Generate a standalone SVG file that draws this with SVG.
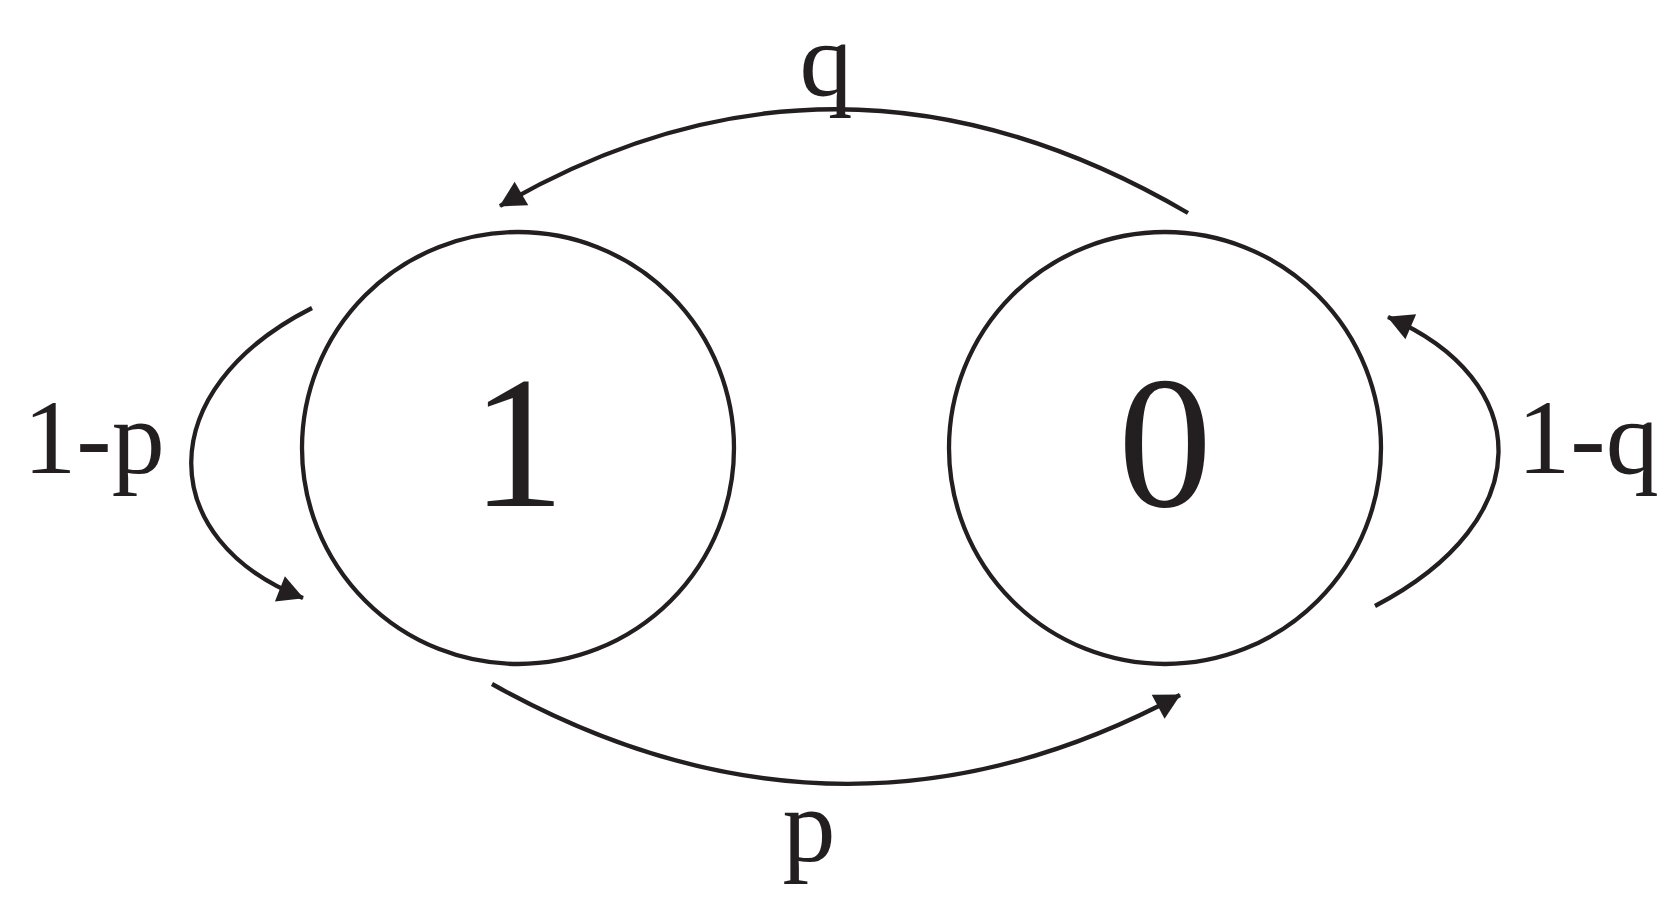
<svg xmlns="http://www.w3.org/2000/svg" width="1679" height="904" viewBox="0 0 1679 904">
<style>
.n{fill:none;stroke:#231f20;stroke-width:4.3}
.c{fill:none;stroke:#231f20;stroke-width:4.3}
text{font-family:"Liberation Serif","Times New Roman",serif;fill:#231f20;text-anchor:middle}
.big{font-size:188px}
.lb{font-size:106px}
</style>
<defs><marker id="a" viewBox="0 0 10 10" refX="9" refY="5" markerWidth="8" markerHeight="8" markerUnits="userSpaceOnUse" orient="auto" style="overflow:visible"><path d="M-22,-12 L10,5 L-22,22 Z" transform="translate(0,0) scale(1)" fill="#231f20"/></marker></defs>
<rect width="1679" height="904" fill="#fff"/>
<g id="node1"><circle class="n" cx="518" cy="448" r="216"/><text class="big" x="518" y="506">1</text></g>
<g id="node0"><circle class="n" cx="1165" cy="448" r="216"/><text class="big" x="1165" y="506">0</text></g>
<g id="connectors">
<path class="c" d="M1188,213 Q839,9 500,206" marker-end="url(#a)"/>
<path class="c" d="M492,684 Q839,878 1180,695" marker-end="url(#a)"/>
<path class="c" d="M312,308 C150,390 155,540 303,598" marker-end="url(#a)"/>
<path class="c" d="M1375,606 C1540,520 1535,380 1388,317" marker-end="url(#a)"/>
</g>
<g id="labels">
<text class="lb" x="826" y="95">q</text>
<text class="lb" x="809" y="861">p</text>
<text class="lb" x="94" y="473">1-p</text>
<text class="lb" x="1588" y="473">1-q</text>
</g>
</svg>
